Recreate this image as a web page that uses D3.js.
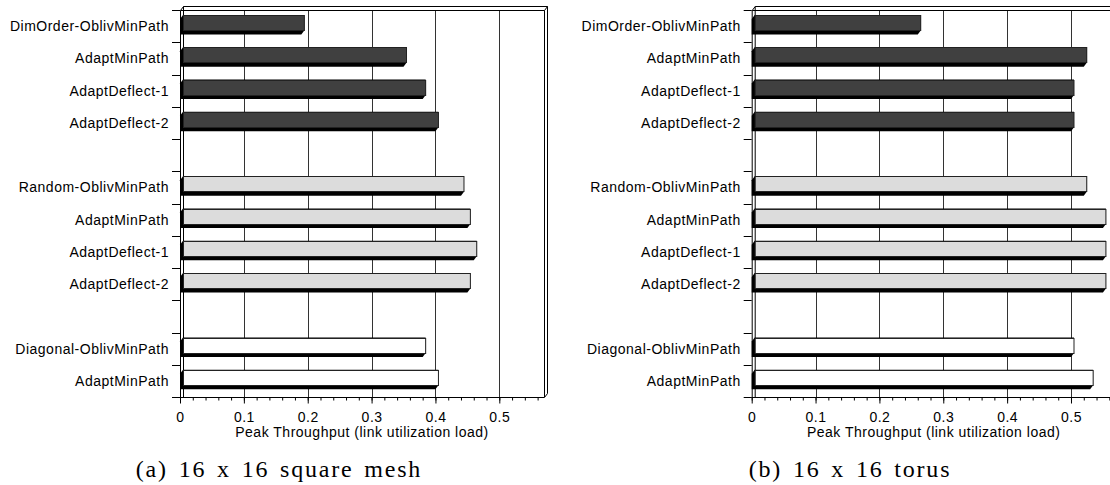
<!DOCTYPE html>
<html>
<head>
  <meta charset="utf-8">
  <title>peak throughput - 3d bars</title>
  <script src="https://d3js.org/d3.v7.min.js"></script>
  <style>
    body { margin: 0; background: #fff; }
    text { font-family: "Liberation Sans", Arial, sans-serif; fill: #000; font-size: 14px; letter-spacing: 0.5px; }
    .caption { font-family: "Liberation Serif", "DejaVu Serif", serif; font-size: 24px; letter-spacing: 1.8px; word-spacing: 3px; }
  </style>
</head>
<body>
<div id="chart"></div>
<script>
// rows, top to bottom ("" = empty spacer row)
var categories = ["DimOrder-OblivMinPath", "AdaptMinPath", "AdaptDeflect-1", "AdaptDeflect-2", "",
                  "Random-OblivMinPath", "AdaptMinPath", "AdaptDeflect-1", "AdaptDeflect-2", "",
                  "Diagonal-OblivMinPath", "AdaptMinPath"];
var groups = [0, 0, 0, 0, -1, 1, 1, 1, 1, -1, 2, 2];
var meshValues  = [0.19, 0.35, 0.38, 0.40, null, 0.44, 0.45, 0.46, 0.45, null, 0.38, 0.40];
var torusValues = [0.26, 0.52, 0.50, 0.50, null, 0.52, 0.55, 0.55, 0.55, null, 0.50, 0.53];
var majorTicks = [0, 0.1, 0.2, 0.3, 0.4, 0.5];
var minorTicks = d3.range(0, 0.57, 0.02);
var groupColors = ["#404040", "#dcdcdc", "#ffffff"];

var svg = d3.select("#chart").append("svg")
    .attr("width", 1110).attr("height", 485);

var top0 = 10, bottom0 = 397, dx = 3, dy = 4;

function panel(left, values, caption, capX) {
  var g = svg.append("g");
  var x = d3.scaleLinear().domain([0, 0.57]).range([left, left + 364]);
  var y = d3.scaleBand().domain(d3.range(categories.length)).range([top0, bottom0]);
  var L = x(0), R = x(0.57);

  // grid lines
  g.selectAll(".grid").data(majorTicks.slice(1)).enter().append("line")
      .attr("x1", d => Math.round(x(d)) + 0.5).attr("x2", d => Math.round(x(d)) + 0.5)
      .attr("y1", top0).attr("y2", bottom0)
      .attr("stroke", "#333").attr("stroke-width", 1);

  // frame with depth
  var frame = [
    [[L, top0], [R, top0]], [[R, top0], [R, bottom0]],
    [[L + dx, top0 - dy], [R + dx, top0 - dy]], [[R + dx, top0 - dy], [R + dx, bottom0 - dy]],
    [[L, top0], [L + dx, top0 - dy]], [[R, top0], [R + dx, top0 - dy]], [[R, bottom0], [R + dx, bottom0 - dy]],
    [[L, top0], [L, bottom0]], [[L + dx, top0 - dy], [L + dx, bottom0]]
  ];
  g.selectAll(".frame").data(frame).enter().append("line")
      .attr("x1", d => d[0][0] + 0.5).attr("y1", d => d[0][1] + 0.5)
      .attr("x2", d => d[1][0] + 0.5).attr("y2", d => d[1][1] + 0.5)
      .attr("stroke", "#000");

  // bars: black depth polygon + face
  var rows = values.map((v, i) => ({v: v, i: i})).filter(d => d.v !== null);
  var h = 15.5;
  var bar = g.selectAll(".bar").data(rows).enter().append("g");
  bar.append("polygon")
      .attr("points", function(d) {
        var y0 = y(d.i) + 5, xe = x(d.v);
        return [[L + dx, y0], [L, y0 + dy], [L, y0 + h + dy], [xe, y0 + h + dy],
                [xe + dx, y0 + h], [xe + dx, y0]].join(" ");
      })
      .attr("fill", "#000");
  bar.append("rect")
      .attr("x", L + dx + 0.5)
      .attr("y", d => Math.round(y(d.i) + 5) + 0.5)
      .attr("width", d => x(d.v) - L - 0.5)
      .attr("height", h - 0.5)
      .attr("fill", d => groupColors[groups[d.i]])
      .attr("stroke", "#222");

  // y ticks at band edges and labels
  var edges = d3.range(categories.length).map(i => y(i)).concat([bottom0]);
  g.selectAll(".ytick").data(edges).enter().append("line")
      .attr("x1", L - 8).attr("x2", L)
      .attr("y1", d => Math.round(d) + 0.5).attr("y2", d => Math.round(d) + 0.5)
      .attr("stroke", "#000");
  g.selectAll(".ylab").data(categories).enter().append("text")
      .attr("x", L - 11).attr("y", (d, i) => y(i) + y.bandwidth() / 2)
      .attr("dy", "0.36em").attr("text-anchor", "end")
      .text(d => d);

  // x axis
  var ax = g.append("g").attr("transform", "translate(0," + (bottom0 + 0.5) + ")");
  ax.call(d3.axisBottom(x).tickValues(minorTicks).tickSize(3).tickFormat(""));
  ax.append("g").call(d3.axisBottom(x).tickValues(majorTicks).tickSize(6).tickPadding(9)
      .tickFormat(d => d === 0 ? "0" : d3.format(".1f")(d)));
  ax.selectAll("path").attr("d", "M" + L + ",0H" + R).attr("stroke", "#000");
  ax.selectAll("line").attr("stroke", "#000");
  ax.selectAll("text").style("font-size", "14px").style("font-family", "Liberation Sans, Arial, sans-serif").attr("fill", "#000");

  g.append("text").attr("x", left + 182).attr("y", 437)
      .attr("text-anchor", "middle")
      .text("Peak Throughput (link utilization load)");

  g.append("text").attr("class", "caption").attr("x", capX).attr("y", 477)
      .attr("text-anchor", "middle").text(caption);
}

panel(180, meshValues, "(a) 16 x 16 square mesh", 279);
panel(751.7, torusValues, "(b) 16 x 16 torus", 850);
</script>
</body>
</html>
